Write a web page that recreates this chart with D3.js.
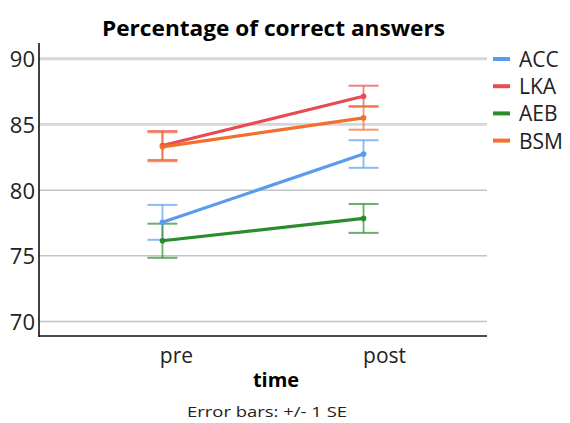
<!DOCTYPE html>
<html><head><meta charset="utf-8">
<script src="https://cdn.jsdelivr.net/npm/d3@7"></script>
<style>body{margin:0;background:#fff}</style>
</head><body>
<svg id="c" width="570" height="423"></svg>
<script>
const categories = ["pre", "post"];
const seriesNames = ["ACC", "LKA", "AEB", "BSM"];
const seriesColors = ["#5a9bef", "#ea4a52", "#2b8c2b", "#f26f2c"];
const means = {ACC:[77.55, 82.75], LKA:[83.4, 87.15], AEB:[76.15, 77.85], BSM:[83.3, 85.5]};
const ses = {ACC:[1.33, 1.05], LKA:[1.1, 0.8], AEB:[1.3, 1.1], BSM:[1.1, 0.9]};
const yTicks = [70, 75, 80, 85, 90];

const svg = d3.select("#c");
const font = "'Open Sans', 'Noto Sans', sans-serif";
const m = {l:39, r:487, t:43, b:336};
const y = d3.scaleLinear().domain([68.9, 91.2]).range([m.b, m.t]);
const x = d3.scalePoint().domain(categories).range([m.l, m.r]).padding(0.614);

// grid
svg.append("g").selectAll("line").data(yTicks).join("line")
  .attr("x1", m.l).attr("x2", m.r).attr("y1", d=>y(d)).attr("y2", d=>y(d))
  .attr("stroke", d=> d>=85?"#d6d6d6":"#c4c4c4").attr("stroke-width", d=> d>=85?2.8:1.5);

// axes
const ya = svg.append("g").attr("transform", `translate(${m.l-4},0)`)
  .call(d3.axisLeft(y).tickValues(yTicks).tickSize(0).tickPadding(0));
ya.select(".domain").remove();
ya.selectAll("text").attr("font-family", font).attr("font-size", 22).attr("fill","#222").attr("dy","0.36em");
svg.append("line").attr("x1", m.l).attr("x2", m.l).attr("y1", m.t).attr("y2", m.b+1)
  .attr("stroke","#111").attr("stroke-width",1.6);
svg.append("line").attr("x1", m.l).attr("x2", m.r).attr("y1", m.b).attr("y2", m.b)
  .attr("stroke","#111").attr("stroke-width",1.6);
const labelShift = {pre:14, post:21};
svg.append("g").selectAll("text").data(categories).join("text")
  .attr("x", d=>x(d)+labelShift[d]).attr("y", 363).attr("text-anchor","middle")
  .attr("font-family", font).attr("font-size", 21).attr("fill","#222").text(d=>d);

// series
const line = d3.line().x((d,i)=>x(categories[i])).y(d=>y(d));
seriesNames.forEach((s, k) => {
  const c = seriesColors[k];
  const g = svg.append("g");
  means[s].forEach((v, i) => {
    const cx = x(categories[i]), lo = y(v - ses[s][i]), hi = y(v + ses[s][i]);
    g.append("line").attr("x1",cx).attr("x2",cx).attr("y1",lo).attr("y2",hi)
      .attr("stroke",c).attr("stroke-opacity",0.7).attr("stroke-width",1.8);
    [lo,hi].forEach(yy => g.append("line").attr("x1",cx-15).attr("x2",cx+15).attr("y1",yy).attr("y2",yy)
      .attr("stroke",c).attr("stroke-opacity",0.7).attr("stroke-width",2));
  });
});
seriesNames.forEach((s, k) => {
  const c = seriesColors[k];
  svg.append("path").attr("d", line(means[s])).attr("fill","none").attr("stroke",c).attr("stroke-width",3.2);
  svg.append("g").selectAll("circle").data(means[s]).join("circle")
    .attr("cx",(d,i)=>x(categories[i])).attr("cy",d=>y(d)).attr("r",2.8).attr("fill",c);
});

// legend
seriesNames.forEach((s,k)=>{
  const ly = 59 + k*27.2;
  svg.append("line").attr("x1",493).attr("x2",510).attr("y1",ly).attr("y2",ly)
    .attr("stroke",seriesColors[k]).attr("stroke-width",4);
  svg.append("text").attr("x",519).attr("y",ly+8).text(s)
    .attr("font-family",font).attr("font-size",21).attr("fill","#222");
});

// titles
svg.append("text").attr("x",102).attr("y",36)
  .attr("font-family",font).attr("font-weight","bold").attr("font-size",21)
  .attr("textLength",343).attr("lengthAdjust","spacingAndGlyphs").text("Percentage of correct answers");
svg.append("text").attr("x",276).attr("y",387).attr("text-anchor","middle")
  .attr("font-family",font).attr("font-weight","bold").attr("font-size",20).text("time");
svg.append("text").attr("x",187).attr("y",417)
  .attr("font-family",font).attr("font-size",15).attr("fill","#222")
  .attr("textLength",160).attr("lengthAdjust","spacingAndGlyphs").text("Error bars: +/- 1 SE");
</script>
</body></html>
